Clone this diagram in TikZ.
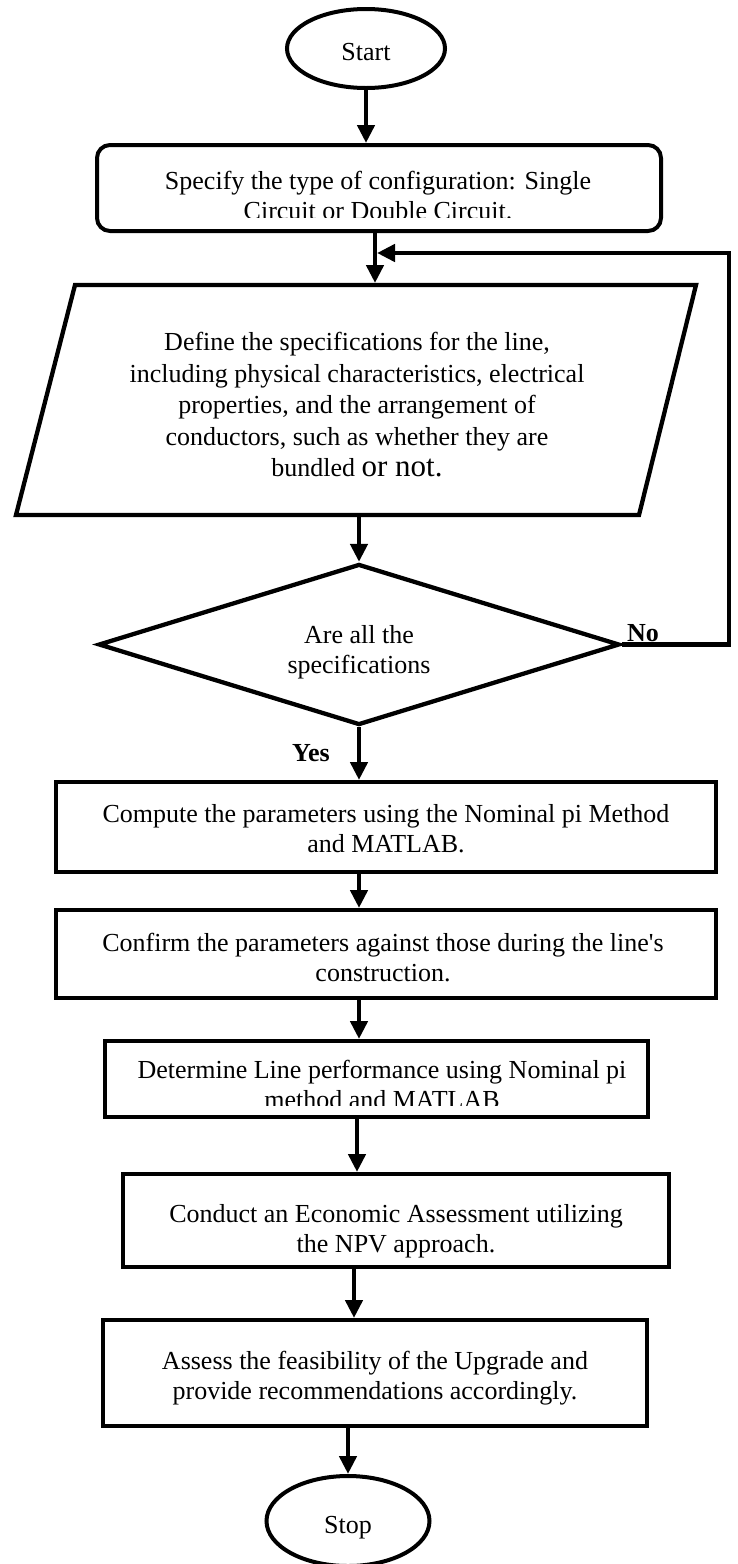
\documentclass[tikz,border=0pt]{standalone}
\usepackage{fontspec}
\setmainfont{Liberation Serif}
\usetikzlibrary{arrows.meta,shapes.geometric}
\begin{document}
\begin{tikzpicture}[x=1pt,y=-1pt,
  txt/.style={font=\fontsize{26}{30}\selectfont, align=center, inner sep=0pt},
  shp/.style={draw, line width=4pt, inner sep=0pt},
  term/.style={shp, ellipse, txt},
  box/.style={shp, rectangle},
  conn/.style={line width=4.5pt, -{Triangle[length=18pt,width=17pt]}},
  lbl/.style={font=\fontsize{26}{30}\selectfont\bfseries, inner sep=0pt}]

\useasboundingbox (0,0) rectangle (737,1564);

% terminals
\node[term, minimum width=158pt, minimum height=79pt, text height=25pt, text depth=2pt] (start) at (366,48.5) {Start};
\node[term, minimum width=163pt, minimum height=90pt, text height=26pt, text depth=2pt] (stop) at (348,1521) {Stop};

% configuration box (rounded, text clipped at the bottom)
\node[shp, rounded corners=13pt, minimum width=564pt, minimum height=86pt] (spec) at (379,188) {};
\begin{scope}
  \clip (97,145) rectangle (661,217);
  \node[txt] (spectext) at (378,196) {Specify the type of configuration: Single\\Circuit or Double Circuit.};
\end{scope}

% parallelogram
\draw[line width=4.3pt, line join=miter] (75,285) -- (696,285) -- (639,515) -- (16,515) -- cycle;
\coordinate (paraN) at (375,283);
\coordinate (paraS) at (359,517);
\node[txt, font=\fontsize{26}{31.5}\selectfont] (para) at (357,405) {Define the specifications for the line,\\including physical characteristics, electrical\\properties, and the arrangement of\\conductors, such as whether they are\\bundled {\fontsize{31}{31}\selectfont or not.}};

% decision
\node[shp, line width=4.3pt, diamond, shape aspect=3.2, minimum width=521pt, minimum height=161pt] (check) at (359,644.5) {};
\node[txt] (checktext) at (359,652) {Are all the\\specifications};
\node[lbl] (no) at (643,633) {No};
\node[lbl] (yes) at (311,753) {Yes};

% process boxes
\node[box, minimum width=660pt, minimum height=90pt] (compute) at (386,827) {};
\node[txt] (computetext) at (386,829) {Compute the parameters using the Nominal pi Method\\and MATLAB.};

\node[box, minimum width=660pt, minimum height=88pt] (confirm) at (386,954) {};
\node[txt] (confirmtext) at (383,958) {Confirm the parameters against those during the line\textquotesingle s\\construction.};

\node[box, minimum width=543pt, minimum height=76pt] (determine) at (376.5,1079) {};
\begin{scope}
  \clip (105,1041) rectangle (648,1105);
  \node[txt] (determinetext) at (382,1084) {Determine Line performance using Nominal pi\\method and MATLAB};
\end{scope}

\node[box, minimum width=546pt, minimum height=93pt] (conduct) at (396,1220.5) {};
\node[txt] (conducttext) at (396,1231) {Conduct an Economic Assessment utilizing\\the NPV approach.};

\node[box, minimum width=544pt, minimum height=106pt] (assess) at (375,1373) {};
\node[txt] (assesstext) at (375,1378) {Assess the feasibility of the Upgrade and\\provide recommendations accordingly.};

% loop coordinates
\coordinate (loopR) at (729,644.5);
\coordinate (loopT) at (729,253);
\coordinate (loopEnd) at (377,253);

% connectors
\draw[conn] (start) -- (start |- spec.north);
\draw[conn] (paraN |- spec.south) -- (paraN);
\draw[conn] (paraS) -- (check.north);
\draw[conn] (check.south) -- (check.south |- compute.north);
\draw[conn] (check.south |- compute.south) -- (check.south |- confirm.north);
\draw[conn] (check.south |- confirm.south) -- (check.south |- determine.north);
\draw[conn] ([xshift=-19.5pt]determine.south) -- ([xshift=-19.5pt]determine.south |- conduct.north);
\draw[conn] ([xshift=-42pt]conduct.south) -- ([xshift=-42pt]conduct.south |- assess.north);
\draw[conn] (stop.north |- assess.south) -- (stop.north);
\draw[conn, line join=miter] (check.east) -- (loopR) -- (loopT) -- (loopEnd);
\end{tikzpicture}
\end{document}
